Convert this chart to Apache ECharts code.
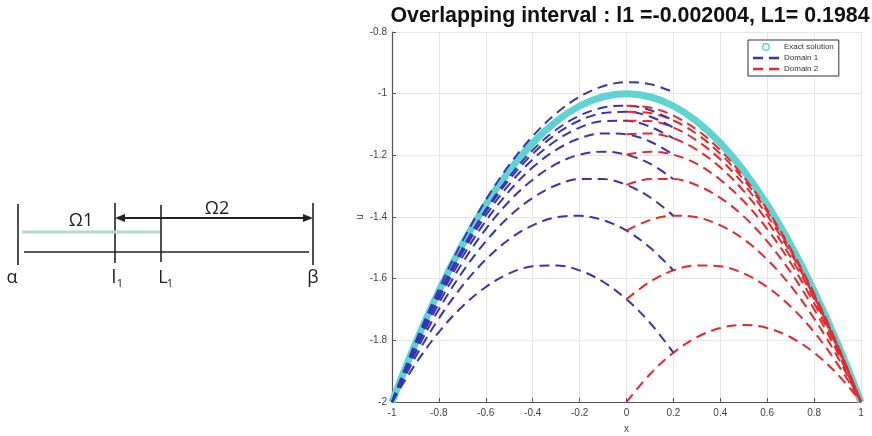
<!DOCTYPE html>
<html>
<head>
<meta charset="utf-8">
<script src="https://cdn.jsdelivr.net/npm/echarts@6/dist/echarts.min.js"></script>
<style>
  html, body { margin: 0; padding: 0; background: #fff; }
  #chart { width: 872px; height: 436px; }
</style>
</head>
<body>
<div id="chart"></div>
<script>
// Overlapping interval bounds
const l1 = -0.002004;
const L1 = 0.1984;

// Grid points
const xExact = [-1, -0.9, -0.8, -0.7, -0.6, -0.5, -0.4, -0.3, -0.2, -0.1, 0, 0.1, 0.2, 0.3, 0.4, 0.5, 0.6, 0.7, 0.8, 0.9, 1];
const xDomain1 = [-1, -0.9, -0.8, -0.7, -0.6, -0.5, -0.4, -0.3, -0.2, -0.1, 0, 0.1, 0.2];
const xDomain2 = [0, 0.1, 0.2, 0.3, 0.4, 0.5, 0.6, 0.7, 0.8, 0.9, 1];

// Exact solution
const uExact = [-2, -1.81, -1.64, -1.49, -1.36, -1.25, -1.16, -1.09, -1.04, -1.01, -1, -1.01, -1.04, -1.09, -1.16, -1.25, -1.36, -1.49, -1.64, -1.81, -2];

// Domain 1 iterates on [alpha, L1]
const dom1It0 = [-2, -1.806, -1.633, -1.479, -1.345, -1.231, -1.138, -1.064, -1.01, -0.976, -0.963, -0.969, -0.995];
const dom1It1 = [-2, -1.877, -1.773, -1.69, -1.627, -1.583, -1.56, -1.557, -1.573, -1.61, -1.667, -1.743, -1.84];
const dom1It2 = [-2, -1.854, -1.729, -1.623, -1.538, -1.472, -1.427, -1.401, -1.396, -1.41, -1.444, -1.499, -1.573];
const dom1It3 = [-2, -1.84, -1.699, -1.579, -1.479, -1.398, -1.338, -1.297, -1.277, -1.277, -1.296, -1.336, -1.396];
const dom1It4 = [-2, -1.83, -1.68, -1.549, -1.439, -1.349, -1.279, -1.228, -1.198, -1.188, -1.198, -1.227, -1.277];
const dom1It5 = [-2, -1.823, -1.666, -1.53, -1.413, -1.316, -1.239, -1.182, -1.145, -1.129, -1.132, -1.155, -1.198];
const dom1It6 = [-2, -1.819, -1.658, -1.516, -1.395, -1.294, -1.213, -1.152, -1.11, -1.089, -1.088, -1.107, -1.145];
const dom1It7 = [-2, -1.816, -1.652, -1.508, -1.383, -1.279, -1.195, -1.131, -1.087, -1.063, -1.059, -1.074, -1.11];
const dom1It8 = [-2, -1.814, -1.648, -1.502, -1.376, -1.27, -1.183, -1.117, -1.071, -1.045, -1.039, -1.053, -1.087];

// Domain 2 iterates on [l1, beta]
const dom2It1 = [-2, -1.91, -1.84, -1.79, -1.76, -1.75, -1.76, -1.79, -1.84, -1.91, -2];
const dom2It2 = [-1.667, -1.61, -1.573, -1.557, -1.56, -1.583, -1.627, -1.69, -1.773, -1.877, -2];
const dom2It3 = [-1.444, -1.41, -1.396, -1.401, -1.427, -1.472, -1.538, -1.623, -1.729, -1.854, -2];
const dom2It4 = [-1.296, -1.277, -1.277, -1.297, -1.338, -1.398, -1.479, -1.579, -1.699, -1.84, -2];
const dom2It5 = [-1.198, -1.188, -1.198, -1.228, -1.279, -1.349, -1.439, -1.549, -1.68, -1.83, -2];
const dom2It6 = [-1.132, -1.129, -1.145, -1.182, -1.239, -1.316, -1.413, -1.53, -1.666, -1.823, -2];
const dom2It7 = [-1.088, -1.089, -1.11, -1.152, -1.213, -1.294, -1.395, -1.516, -1.658, -1.819, -2];
const dom2It8 = [-1.059, -1.063, -1.087, -1.131, -1.195, -1.279, -1.383, -1.508, -1.652, -1.816, -2];
const dom2It9 = [-1.039, -1.045, -1.071, -1.117, -1.183, -1.27, -1.376, -1.502, -1.648, -1.814, -2];

const xTicks = { min: -1, max: 1, interval: 0.2 };
const yTicks = { min: -2, max: -0.8, interval: 0.2 };

const CYAN = '#5fd3cf';
const BLUE = '#3636b4';
const RED = '#e8282c';

// Legend glyphs: a ring for the exact solution, two dashes for the iterates
const RING_ICON = 'path://M5,0A5,5 0 1,1 4.99,0ZM5,1.8A3.2,3.2 0 1,0 5.01,1.8Z';
const DASH_ICON = 'path://M0,0H10V2.4H0ZM16,0H26V2.4H16Z';

const pair = (xs, ys) => ys.map((y, i) => [xs[i], y]);

function iterSeries(name, xs, ys, color) {
  return {
    name: name,
    type: 'line',
    data: pair(xs, ys),
    smooth: 0.35,
    showSymbol: false,
    symbol: 'none',
    lineStyle: { color: color, width: 2, type: [10, 6] },
    itemStyle: { color: color },
    z: 3
  };
}

const series = [{
  name: 'Exact solution',
  type: 'line',
  data: pair(xExact, uExact),
  smooth: 0.35,
  showSymbol: false,
  symbol: 'none',
  lineStyle: { color: CYAN, width: 7 },
  itemStyle: { color: CYAN },
  z: 2
}];

const d1 = [dom1It0, dom1It1, dom1It2, dom1It3, dom1It4, dom1It5, dom1It6, dom1It7, dom1It8];
const d2 = [null, dom2It1, dom2It2, dom2It3, dom2It4, dom2It5, dom2It6, dom2It7, dom2It8, dom2It9];
series.push(iterSeries('Domain 1', xDomain1, d1[0], BLUE));
for (let k = 1; k < d2.length; k++) {
  series.push(iterSeries('Domain 2', xDomain2, d2[k], RED));
  if (k < d1.length) series.push(iterSeries('Domain 1', xDomain1, d1[k], BLUE));
}

// Sketch of the two overlapping subdomains
const ink = '#222';
const diagFont = '"Open Sans", "Noto Sans", sans-serif';
const vline = (x, y1, y2) => ({ type: 'line', shape: { x1: x, y1: y1, x2: x, y2: y2 }, style: { stroke: ink, lineWidth: 1.6 } });
const label = (t, x, y, size) => ({ type: 'text', style: { text: t, x: x, y: y, align: 'center', verticalAlign: 'middle', font: size + 'px ' + diagFont, fill: ink } });

const graphic = [
  vline(18, 204, 265),
  vline(115, 203, 263),
  vline(161, 205, 262),
  vline(313, 203, 265),
  { type: 'line', shape: { x1: 24, y1: 252, x2: 309, y2: 252 }, style: { stroke: ink, lineWidth: 1.4 } },
  { type: 'line', shape: { x1: 22, y1: 232, x2: 160, y2: 232 }, style: { stroke: '#b7d4d6', lineWidth: 3.2 } },
  { type: 'line', shape: { x1: 122, y1: 218, x2: 306, y2: 218 }, style: { stroke: ink, lineWidth: 2 } },
  { type: 'polygon', shape: { points: [[115, 218], [125, 214], [125, 222]] }, style: { fill: ink } },
  { type: 'polygon', shape: { points: [[313, 218], [303, 214], [303, 222]] }, style: { fill: ink } },
  label('Ω1', 81, 221, 18),
  label('Ω2', 217, 209, 18),
  label('α', 12, 278, 18),
  label('l', 114, 278, 19),
  label('1', 120, 284, 11),
  label('L', 163, 278, 18),
  label('1', 170, 284, 11),
  label('β', 313, 278, 18)
];

const axisLabelStyle = { color: '#444', fontSize: 10, fontFamily: '"Liberation Sans", Arial, sans-serif' };

const option = {
  animation: false,
  backgroundColor: '#fff',
  title: {
    text: 'Overlapping interval : l1 =' + l1 + ', L1= ' + L1,
    left: 625,
    textAlign: 'center',
    top: 1,
    textStyle: { fontSize: 21.4, fontWeight: 'bold', color: '#111', fontFamily: '"Liberation Sans", Arial, sans-serif' }
  },
  legend: {
    orient: 'vertical',
    left: 748,
    top: 40,
    padding: [3, 5, 3, 5],
    itemGap: 3,
    itemWidth: 26,
    itemHeight: 8,
    backgroundColor: '#fff',
    borderColor: '#333',
    borderWidth: 1,
    borderRadius: 0,
    textStyle: { fontSize: 8, color: '#333', fontFamily: '"Liberation Sans", Arial, sans-serif' },
    data: [
      { name: 'Exact solution', icon: RING_ICON, itemStyle: { color: CYAN } },
      { name: 'Domain 1', icon: DASH_ICON, itemStyle: { color: BLUE } },
      { name: 'Domain 2', icon: DASH_ICON, itemStyle: { color: RED } }
    ]
  },
  grid: { left: 392, right: 11, top: 32, bottom: 34, outerBoundsMode: 'none' },
  xAxis: {
    type: 'value',
    min: xTicks.min, max: xTicks.max, interval: xTicks.interval,
    name: 'x', nameLocation: 'middle', nameGap: 22, nameMoveOverlap: false,
    nameTextStyle: { color: '#444', fontSize: 10 },
    axisLine: { onZero: false, lineStyle: { color: '#555', width: 1.2 } },
    axisTick: { inside: true, length: 4, lineStyle: { color: '#555' } },
    axisLabel: Object.assign({ margin: 6 }, axisLabelStyle),
    splitLine: { show: true, lineStyle: { color: '#e6e6e6', width: 1 } }
  },
  yAxis: {
    type: 'value',
    min: yTicks.min, max: yTicks.max, interval: yTicks.interval,
    name: 'u', nameLocation: 'middle', nameGap: 27, nameRotate: 90, nameMoveOverlap: false,
    nameTextStyle: { color: '#444', fontSize: 10 },
    axisLine: { show: true, onZero: false, lineStyle: { color: '#555', width: 1.2 } },
    axisTick: { show: true, inside: true, length: 4, lineStyle: { color: '#555' } },
    axisLabel: Object.assign({ margin: 5 }, axisLabelStyle),
    splitLine: { show: true, lineStyle: { color: '#e6e6e6', width: 1 } }
  },
  series: series,
  graphic: graphic
};

const chart = echarts.init(document.getElementById('chart'), null, { renderer: 'canvas' });
chart.setOption(option);
</script>
</body>
</html>
